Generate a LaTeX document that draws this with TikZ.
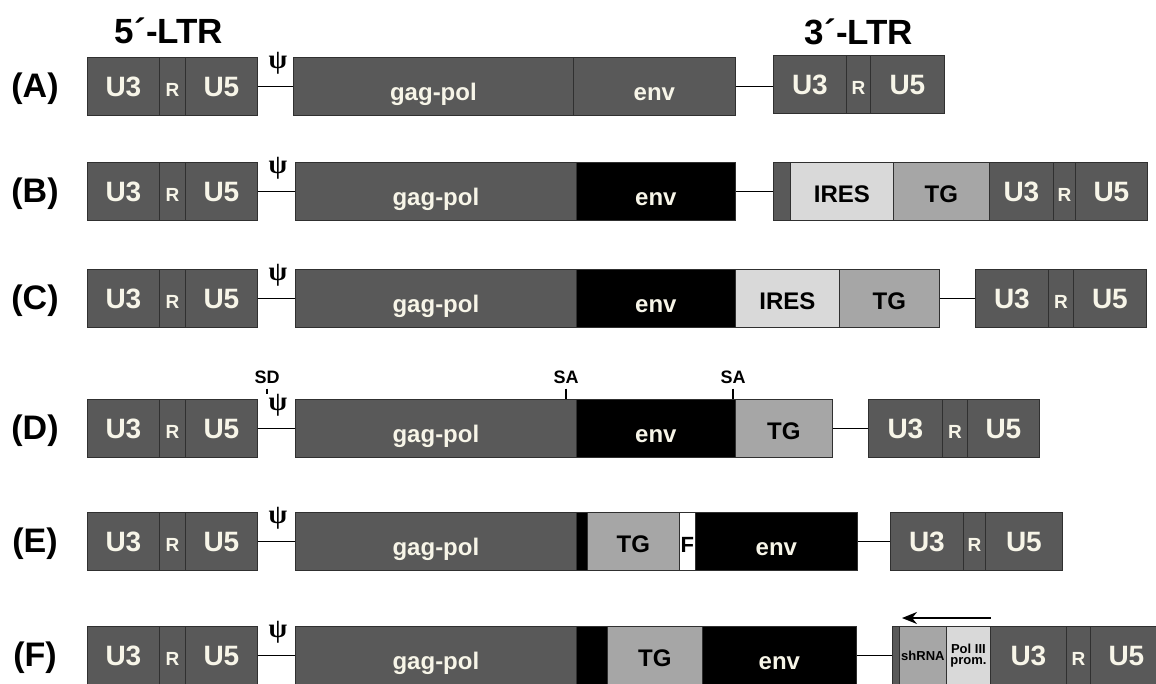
\documentclass[tikz,border=0pt]{standalone}
\usepackage{fontspec}
\setmainfont{Liberation Sans}
\newfontfamily\psifont{Liberation Serif}
\usetikzlibrary{arrows.meta}
\definecolor{SegGray}{HTML}{595959}
\definecolor{TGGray}{HTML}{A6A6A6}
\definecolor{IRESGray}{HTML}{D9D9D9}
\definecolor{Cream}{HTML}{F7F5E8}
\definecolor{EdgeGray}{HTML}{303030}

\tikzset{
  seg/.style={draw=EdgeGray, line width=0.8pt, anchor=north west, minimum height=58pt,
    inner sep=0pt, text height=22pt, text depth=0pt,
    font=\bfseries\fontsize{24}{24}\selectfont},
  darkseg/.style={seg, fill=SegGray, text=Cream},
  envseg/.style={seg, fill=black, text=Cream},
  tgseg/.style={seg, fill=TGGray, text=black},
  iresseg/.style={seg, fill=IRESGray, text=black},
  lc/.style={text height=29pt},
  bigtxt/.style={font=\bfseries\fontsize{28}{28}\selectfont, text height=20pt},
  smalltxt/.style={font=\bfseries\fontsize{19}{19}\selectfont, text height=20pt},
  tinytxt/.style={font=\bfseries\fontsize{13}{11.5}\selectfont, align=center,
    text height=, text depth=},
  sitetxt/.style={font=\bfseries\fontsize{18}{18}\selectfont, inner sep=0pt},
  psitxt/.style={font=\psifont\bfseries\fontsize{27}{27}\selectfont, inner sep=0pt},
  link/.style={line width=1.8pt, black},
}

\begin{document}
\begin{tikzpicture}[x=1pt,y=-1pt]
  \useasboundingbox (0,0) rectangle (1156,683);
  \clip (0,0) rectangle (1156,683);

  % titles of the two LTRs
  \node[font=\bfseries\fontsize{35}{35}\selectfont] (ltr5) at (169,31) {5´-LTR};
  \node[font=\bfseries\fontsize{35}{35}\selectfont] (ltr3) at (859,32) {3´-LTR};

  % 5' LTR, row label and packaging signal, the same in every row
  \foreach \r/\y in {A/57,B/162,C/269,D/399,E/512,F/626}{
    \node[darkseg, bigtxt, minimum width=72pt] (u3\r) at (87,\y) {U3};
    \node[darkseg, smalltxt, minimum width=26pt] (r\r) at (159,\y) {R};
    \node[darkseg, bigtxt, minimum width=72pt] (u5\r) at (185,\y) {U5};
    \node[font=\bfseries\fontsize{34}{34}\selectfont] (lab\r) at (35,\y+32) {(\r)};
    \node[psitxt] (psi\r) at (278,\y+6) {ψ};
  }

  % (A)
  \node[darkseg, lc, minimum width=280pt] (gpA) at (293,57) {gag-pol};
  \node[darkseg, lc, minimum width=162pt] (envA) at (573,57) {env};
  \node[darkseg, bigtxt, minimum width=73pt] (u3rA) at (773,55) {U3};
  \node[darkseg, smalltxt, minimum width=24pt] (rrA) at (846,55) {R};
  \node[darkseg, bigtxt, minimum width=74pt] (u5rA) at (870,55) {U5};
  \draw[link] (u5A.east) -- (gpA.west);
  \draw[link] (envA.east) -- (envA.east -| u3rA.west);

  % (B)
  \node[darkseg, lc, minimum width=281pt] (gpB) at (295,162) {gag-pol};
  \node[envseg, lc, minimum width=159pt] (envB) at (576,162) {env};
  \node[darkseg, minimum width=17pt] (stB) at (773,162) {};
  \node[iresseg, minimum width=103pt] (iresB) at (790,162) {IRES};
  \node[tgseg, minimum width=96pt] (tgB) at (893,162) {TG};
  \node[darkseg, bigtxt, minimum width=64pt] (u3rB) at (989,162) {U3};
  \node[darkseg, smalltxt, minimum width=22pt] (rrB) at (1053,162) {R};
  \node[darkseg, bigtxt, minimum width=72pt] (u5rB) at (1075,162) {U5};
  \draw[link] (u5B.east) -- (gpB.west);
  \draw[link] (envB.east) -- (stB.west);

  % (C)
  \node[darkseg, lc, minimum width=281pt] (gpC) at (295,269) {gag-pol};
  \node[envseg, lc, minimum width=159pt] (envC) at (576,269) {env};
  \node[iresseg, minimum width=104pt] (iresC) at (735,269) {IRES};
  \node[tgseg, minimum width=100pt] (tgC) at (839,269) {TG};
  \node[darkseg, bigtxt, minimum width=73pt] (u3rC) at (975,269) {U3};
  \node[darkseg, smalltxt, minimum width=25pt] (rrC) at (1048,269) {R};
  \node[darkseg, bigtxt, minimum width=73pt] (u5rC) at (1073,269) {U5};
  \draw[link] (u5C.east) -- (gpC.west);
  \draw[link] (tgC.east) -- (u3rC.west);

  % (D)
  \node[darkseg, lc, minimum width=281pt] (gpD) at (295,399) {gag-pol};
  \node[envseg, lc, minimum width=159pt] (envD) at (576,399) {env};
  \node[tgseg, minimum width=97pt] (tgD) at (735,399) {TG};
  \node[darkseg, bigtxt, minimum width=74pt] (u3rD) at (868,399) {U3};
  \node[darkseg, smalltxt, minimum width=25pt] (rrD) at (942,399) {R};
  \node[darkseg, bigtxt, minimum width=72pt] (u5rD) at (967,399) {U5};
  \draw[link] (u5D.east) -- (gpD.west);
  \draw[link] (tgD.east) -- (u3rD.west);
  % splice sites
  \node[sitetxt] (sdD) at (267,377) {SD};
  \node[sitetxt] (saD) at (566,377) {SA};
  \node[sitetxt] (sbD) at (733,377) {SA};
  \coordinate (sdtip) at (266,394);
  \draw[line width=1.2pt] (sdD.south) ++(0,5) coordinate (sdtop) -- (sdtop |- sdtip);
  \draw[line width=1.2pt] (saD.south) ++(0,5) coordinate (satop) -- (satop |- gpD.north);
  \draw[line width=1.2pt] (sbD.south) ++(0,5) coordinate (sbtop) -- (sbtop |- envD.north);

  % (E)
  \node[darkseg, lc, minimum width=281pt] (gpE) at (295,512) {gag-pol};
  \node[envseg, minimum width=11pt] (bkE) at (576,512) {};
  \node[tgseg, minimum width=92pt] (tgE) at (587,512) {TG};
  \node[seg, fill=white, minimum width=16pt, font=\bfseries\fontsize{22}{22}\selectfont] (fE) at (679,512) {F};
  \node[envseg, lc, minimum width=162pt] (envE) at (695,512) {env};
  \node[darkseg, bigtxt, minimum width=73pt] (u3rE) at (890,512) {U3};
  \node[darkseg, smalltxt, minimum width=22pt] (rrE) at (963,512) {R};
  \node[darkseg, bigtxt, minimum width=77pt] (u5rE) at (985,512) {U5};
  \draw[link] (u5E.east) -- (gpE.west);
  \draw[link] (envE.east) -- (u3rE.west);

  % (F)
  \node[darkseg, lc, minimum width=281pt] (gpF) at (295,626) {gag-pol};
  \node[envseg, minimum width=31pt] (bkF) at (576,626) {};
  \node[tgseg, minimum width=95pt] (tgF) at (607,626) {TG};
  \node[envseg, lc, minimum width=154pt] (envF) at (702,626) {env};
  \node[darkseg, minimum width=7pt] (stF) at (892,626) {};
  \node[tgseg, tinytxt, minimum width=47pt] (shF) at (899,626) {shRNA};
  \node[iresseg, tinytxt, minimum width=44pt] (polF) at (946,626) {Pol III\\prom.};
  \node[darkseg, bigtxt, minimum width=76pt] (u3rF) at (990,626) {U3};
  \node[darkseg, smalltxt, minimum width=24pt] (rrF) at (1066,626) {R};
  \node[darkseg, bigtxt, minimum width=72pt] (u5rF) at (1090,626) {U5};
  \draw[link] (u5F.east) -- (gpF.west);
  \draw[link] (envF.east) -- (stF.west);
  \draw[line width=1.8pt, -{Stealth[length=15pt,width=12pt]}]
    ([yshift=8pt]polF.north east) -- ([xshift=3pt,yshift=8pt]shF.north west);
\end{tikzpicture}
\end{document}
